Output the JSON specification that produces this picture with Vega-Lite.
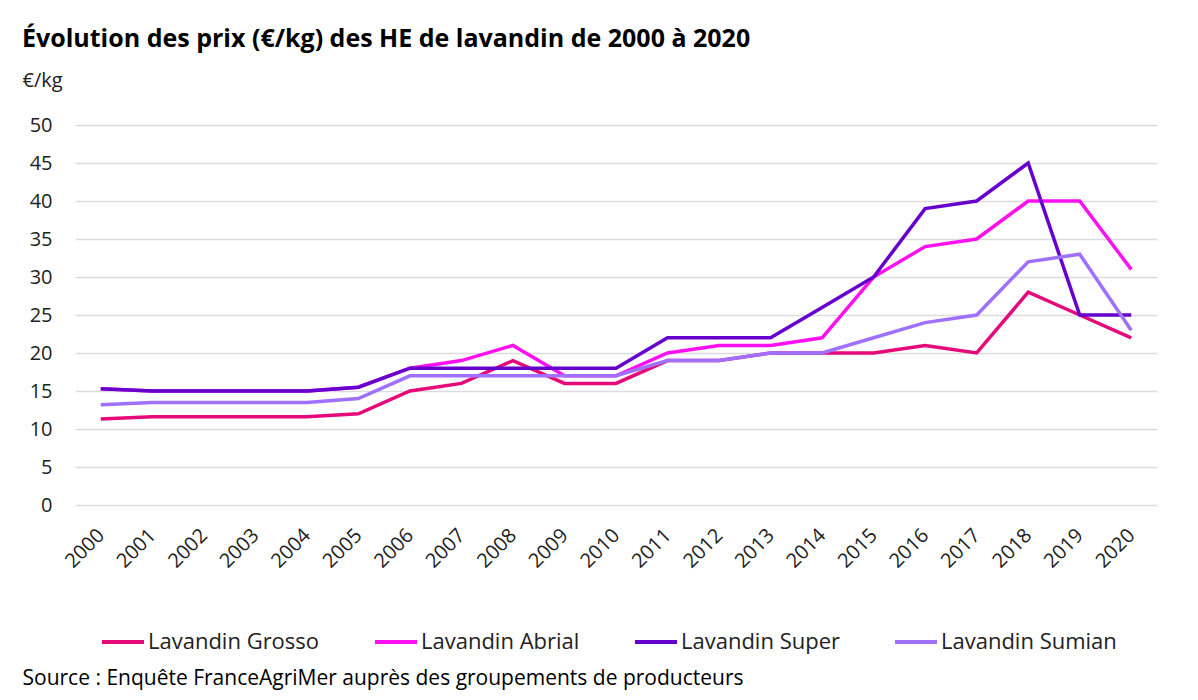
{
  "$schema": "https://vega.github.io/schema/vega-lite/v6.json",
  "width": 1082,
  "height": 380,
  "autosize": {"type": "none"},
  "padding": {"left": 75, "top": 125, "right": 41, "bottom": 195},
  "background": "white",
  "title": {
    "text": "Évolution des prix (€/kg) des HE de lavandin de 2000 à 2020",
    "anchor": "start",
    "frame": "group",
    "dx": -53,
    "dy": 2,
    "offset": 20,
    "font": "Open Sans",
    "fontSize": 25,
    "fontWeight": "bold",
    "color": "#000000"
  },
  "data": {
    "values": [
      {"year": "2000", "series": "Lavandin Grosso", "value": 11.3},
      {"year": "2001", "series": "Lavandin Grosso", "value": 11.6},
      {"year": "2002", "series": "Lavandin Grosso", "value": 11.6},
      {"year": "2003", "series": "Lavandin Grosso", "value": 11.6},
      {"year": "2004", "series": "Lavandin Grosso", "value": 11.6},
      {"year": "2005", "series": "Lavandin Grosso", "value": 12},
      {"year": "2006", "series": "Lavandin Grosso", "value": 15},
      {"year": "2007", "series": "Lavandin Grosso", "value": 16},
      {"year": "2008", "series": "Lavandin Grosso", "value": 19},
      {"year": "2009", "series": "Lavandin Grosso", "value": 16},
      {"year": "2010", "series": "Lavandin Grosso", "value": 16},
      {"year": "2011", "series": "Lavandin Grosso", "value": 19},
      {"year": "2012", "series": "Lavandin Grosso", "value": 19},
      {"year": "2013", "series": "Lavandin Grosso", "value": 20},
      {"year": "2014", "series": "Lavandin Grosso", "value": 20},
      {"year": "2015", "series": "Lavandin Grosso", "value": 20},
      {"year": "2016", "series": "Lavandin Grosso", "value": 21},
      {"year": "2017", "series": "Lavandin Grosso", "value": 20},
      {"year": "2018", "series": "Lavandin Grosso", "value": 28},
      {"year": "2019", "series": "Lavandin Grosso", "value": 25},
      {"year": "2020", "series": "Lavandin Grosso", "value": 22},
      {"year": "2000", "series": "Lavandin Abrial", "value": 15.3},
      {"year": "2001", "series": "Lavandin Abrial", "value": 15},
      {"year": "2002", "series": "Lavandin Abrial", "value": 15},
      {"year": "2003", "series": "Lavandin Abrial", "value": 15},
      {"year": "2004", "series": "Lavandin Abrial", "value": 15},
      {"year": "2005", "series": "Lavandin Abrial", "value": 15.5},
      {"year": "2006", "series": "Lavandin Abrial", "value": 18},
      {"year": "2007", "series": "Lavandin Abrial", "value": 19},
      {"year": "2008", "series": "Lavandin Abrial", "value": 21},
      {"year": "2009", "series": "Lavandin Abrial", "value": 17},
      {"year": "2010", "series": "Lavandin Abrial", "value": 17},
      {"year": "2011", "series": "Lavandin Abrial", "value": 20},
      {"year": "2012", "series": "Lavandin Abrial", "value": 21},
      {"year": "2013", "series": "Lavandin Abrial", "value": 21},
      {"year": "2014", "series": "Lavandin Abrial", "value": 22},
      {"year": "2015", "series": "Lavandin Abrial", "value": 30},
      {"year": "2016", "series": "Lavandin Abrial", "value": 34},
      {"year": "2017", "series": "Lavandin Abrial", "value": 35},
      {"year": "2018", "series": "Lavandin Abrial", "value": 40},
      {"year": "2019", "series": "Lavandin Abrial", "value": 40},
      {"year": "2020", "series": "Lavandin Abrial", "value": 31},
      {"year": "2000", "series": "Lavandin Super", "value": 15.3},
      {"year": "2001", "series": "Lavandin Super", "value": 15},
      {"year": "2002", "series": "Lavandin Super", "value": 15},
      {"year": "2003", "series": "Lavandin Super", "value": 15},
      {"year": "2004", "series": "Lavandin Super", "value": 15},
      {"year": "2005", "series": "Lavandin Super", "value": 15.5},
      {"year": "2006", "series": "Lavandin Super", "value": 18},
      {"year": "2007", "series": "Lavandin Super", "value": 18},
      {"year": "2008", "series": "Lavandin Super", "value": 18},
      {"year": "2009", "series": "Lavandin Super", "value": 18},
      {"year": "2010", "series": "Lavandin Super", "value": 18},
      {"year": "2011", "series": "Lavandin Super", "value": 22},
      {"year": "2012", "series": "Lavandin Super", "value": 22},
      {"year": "2013", "series": "Lavandin Super", "value": 22},
      {"year": "2014", "series": "Lavandin Super", "value": 26},
      {"year": "2015", "series": "Lavandin Super", "value": 30},
      {"year": "2016", "series": "Lavandin Super", "value": 39},
      {"year": "2017", "series": "Lavandin Super", "value": 40},
      {"year": "2018", "series": "Lavandin Super", "value": 45},
      {"year": "2019", "series": "Lavandin Super", "value": 25},
      {"year": "2020", "series": "Lavandin Super", "value": 25},
      {"year": "2000", "series": "Lavandin Sumian", "value": 13.2},
      {"year": "2001", "series": "Lavandin Sumian", "value": 13.5},
      {"year": "2002", "series": "Lavandin Sumian", "value": 13.5},
      {"year": "2003", "series": "Lavandin Sumian", "value": 13.5},
      {"year": "2004", "series": "Lavandin Sumian", "value": 13.5},
      {"year": "2005", "series": "Lavandin Sumian", "value": 14},
      {"year": "2006", "series": "Lavandin Sumian", "value": 17},
      {"year": "2007", "series": "Lavandin Sumian", "value": 17},
      {"year": "2008", "series": "Lavandin Sumian", "value": 17},
      {"year": "2009", "series": "Lavandin Sumian", "value": 17},
      {"year": "2010", "series": "Lavandin Sumian", "value": 17},
      {"year": "2011", "series": "Lavandin Sumian", "value": 19},
      {"year": "2012", "series": "Lavandin Sumian", "value": 19},
      {"year": "2013", "series": "Lavandin Sumian", "value": 20},
      {"year": "2014", "series": "Lavandin Sumian", "value": 20},
      {"year": "2015", "series": "Lavandin Sumian", "value": 22},
      {"year": "2016", "series": "Lavandin Sumian", "value": 24},
      {"year": "2017", "series": "Lavandin Sumian", "value": 25},
      {"year": "2018", "series": "Lavandin Sumian", "value": 32},
      {"year": "2019", "series": "Lavandin Sumian", "value": 33},
      {"year": "2020", "series": "Lavandin Sumian", "value": 23}
    ]
  },
  "mark": {"type": "line", "strokeWidth": 3.5, "strokeJoin": "miter"},
  "encoding": {
    "x": {
      "field": "year",
      "type": "ordinal",
      "scale": {"type": "point", "padding": 0.5},
      "axis": {
        "domain": false,
        "ticks": false,
        "grid": false,
        "labelAngle": -45,
        "labelAlign": "right",
        "labelBaseline": "middle",
        "labelPadding": 27,
        "labelFont": "Open Sans",
        "labelFontSize": 20,
        "labelColor": "#222222",
        "title": "Source : Enquête FranceAgriMer auprès des groupements de producteurs",
        "titleX": -53,
        "titleY": 173,
        "titleAlign": "left",
        "titleBaseline": "middle",
        "titleFont": "Open Sans",
        "titleFontSize": 21,
        "titleFontWeight": "normal",
        "titleColor": "#000000"
      }
    },
    "y": {
      "field": "value",
      "type": "quantitative",
      "scale": {"domain": [0, 50], "nice": false},
      "axis": {
        "values": [0, 5, 10, 15, 20, 25, 30, 35, 40, 45, 50],
        "domain": false,
        "ticks": false,
        "gridColor": "#dcdcdc",
        "gridWidth": 1.5,
        "labelPadding": 23,
        "labelFont": "Open Sans",
        "labelFontSize": 20,
        "labelColor": "#222222",
        "title": "€/kg",
        "titleAngle": 0,
        "titleX": -53,
        "titleY": -45,
        "titleAlign": "left",
        "titleBaseline": "middle",
        "titleFont": "Open Sans",
        "titleFontSize": 20,
        "titleFontWeight": "normal",
        "titleColor": "#222222"
      }
    },
    "color": {
      "field": "series",
      "type": "nominal",
      "sort": ["Lavandin Grosso", "Lavandin Abrial", "Lavandin Super", "Lavandin Sumian"],
      "scale": {
        "domain": ["Lavandin Grosso", "Lavandin Abrial", "Lavandin Super", "Lavandin Sumian"],
        "range": ["#E5097A", "#FF10F0", "#6600CC", "#A070FF"]
      },
      "legend": {
        "orient": "none",
        "direction": "horizontal",
        "legendX": 25,
        "legendY": 494,
        "title": null,
        "symbolType": "stroke",
        "symbolSize": 1764,
        "symbolStrokeWidth": 4,
        "labelOffset": 2,
        "labelLimit": 0,
        "labelFont": "Open Sans",
        "labelFontSize": 22,
        "labelColor": "#222222",
        "columnPadding": 47
      }
    }
  },
  "config": {"view": {"stroke": null}}
}
